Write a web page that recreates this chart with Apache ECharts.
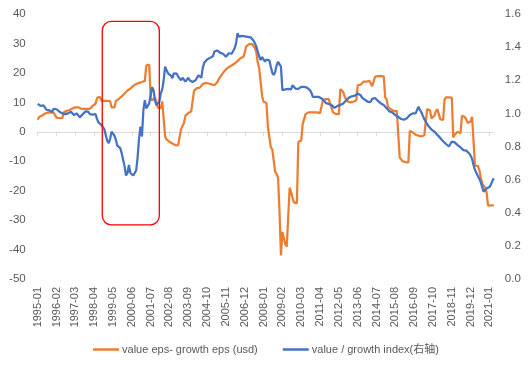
<!DOCTYPE html>
<html><head><meta charset="utf-8">
<script src="https://cdn.jsdelivr.net/npm/echarts@6/dist/echarts.min.js"></script>
<style>html,body{margin:0;padding:0;background:#fff}#c{width:532px;height:366px}</style>
</head><body><div id="c"></div>
<script>
// monthly categories 1995-01 .. 2021-04
const firstYear = 1995;
const monthCount = 316;
const categories = [];
for (let i = 0; i < monthCount; i++) {
  const y = firstYear + Math.floor(i / 12), m = i % 12 + 1;
  categories.push(y + '-' + (m < 10 ? '0' : '') + m);
}

// value eps - growth eps (usd), left axis
const epsSpread = [
  4.1, 5.0, 5.4, 5.5, 5.6, 6.2, 6.3, 6.5, 6.6, 6.6, 6.5, 6.5,
  6.0, 4.8, 4.6, 4.6, 4.6, 4.7, 6.6, 6.8, 7.1, 7.2, 7.4, 7.6,
  7.9, 8.1, 8.3, 8.4, 8.3, 7.9, 7.8, 7.8, 7.8, 7.8, 7.8, 7.7,
  7.8, 8.0, 8.8, 9.3, 9.6, 11.5, 12.1, 11.9, 10.6, 10.5, 10.5, 10.5,
  10.5, 10.5, 10.4, 8.3, 8.2, 8.3, 10.4, 10.8, 11.2, 11.6, 12.0, 12.4,
  13.0, 13.5, 14.0, 14.5, 14.7, 15.2, 15.6, 16.0, 16.2, 16.3, 16.6, 16.8,
  16.9, 17.0, 17.3, 22.5, 23.0, 22.8, 11.6, 10.6, 10.5, 11.6, 10.0, 8.2,
  7.9, 8.0, 10.3, 10.4, -1.5, -2.6, -3.0, -3.4, -3.8, -4.0, -4.3, -4.5,
  -4.6, -4.6, -4.7, 0.9, 1.2, 3.0, 5.4, 5.8, 6.4, 6.6, 6.9, 7.2,
  14.0, 14.5, 14.8, 15.0, 15.0, 15.4, 16.2, 16.5, 16.6, 16.6, 16.4, 16.2,
  16.1, 16.0, 15.8, 15.8, 16.8, 17.8, 18.6, 19.2, 20.0, 20.6, 21.2, 21.6,
  22.0, 22.3, 22.5, 22.9, 23.2, 23.6, 24.0, 24.5, 25.0, 25.2, 25.4, 27.0,
  29.0, 29.5, 29.8, 29.9, 29.8, 29.6, 28.5, 27.0, 23.5, 21.5, 21.0, 12.0,
  10.2, 10.0, 9.8, 1.5, 1.0, -5.3, -6.0, -6.5, -13.5, -14.4, -15.5, -27.0,
  -42.0, -34.0, -34.5, -38.2, -39.0, -39.3, -19.0, -20.5, -22.5, -24.0, -24.5, -24.3,
  -3.5, -3.3, -3.0, 2.6, 2.7, 6.0, 6.4, 6.6, 6.6, 6.6, 6.6, 6.6,
  6.6, 6.6, 6.5, 6.3, 6.2, 10.8, 11.0, 11.1, 11.1, 11.1, 11.0, 8.0,
  6.6, 6.2, 6.0, 6.0, 6.0, 14.5, 14.2, 13.5, 12.0, 11.0, 10.3, 10.0,
  10.0, 10.0, 10.2, 10.5, 10.6, 15.8, 16.2, 16.0, 16.6, 17.0, 17.3, 17.0,
  17.6, 17.3, 16.5, 15.5, 15.0, 18.7, 18.8, 18.9, 18.9, 18.9, 18.9, 18.8,
  11.7, 11.0, 8.3, 7.8, 7.7, 7.2, 7.0, 6.8, 7.1, 6.8, -8.7, -9.0,
  -10.0, -10.3, -10.3, -10.4, -10.4, 0.3, 0.2, -0.2, -0.7, -1.0, -1.0, -1.3,
  -1.6, -1.6, -1.2, -1.2, -1.3, 7.7, 7.7, 7.2, 4.5, 4.3, 5.5, 7.0,
  7.7, 6.0, 4.3, 3.7, 4.0, 11.0, 11.7, 11.7, 11.7, 11.7, 11.6, -1.9,
  -1.0, -1.0, 0.0, 0.2, -0.5, 5.4, 5.4, 5.0, 4.2, 3.0, 2.6, 3.5,
  5.1, 5.1, -11.5, -11.5, -11.6, -13.0, -15.5, -17.5, -18.0, -19.0, -20.5, -25.0,
  -25.0, -25.0, -25.0, -25.0
];

// value / growth index, right axis
const vgIndex = [
  1.057, 1.050, 1.045, 1.055, 1.048, 1.040, 1.022, 1.030, 1.018, 1.012, 1.010, 1.028,
  1.033, 1.025, 1.018, 1.010, 1.005, 1.000, 1.008, 0.995, 0.990, 1.000, 0.993, 1.010,
  1.002, 0.990, 0.984, 1.000, 0.993, 0.976, 0.985, 0.994, 1.000, 1.012, 1.020, 1.010,
  0.995, 0.984, 0.992, 0.988, 0.995, 0.965, 0.945, 0.935, 0.930, 0.918, 0.905, 0.870,
  0.835, 0.820, 0.845, 0.890, 0.900, 0.865, 0.840, 0.805, 0.800, 0.790, 0.760, 0.720,
  0.680, 0.625, 0.640, 0.688, 0.640, 0.650, 0.625, 0.618, 0.655, 0.735, 0.850, 0.920,
  0.860, 1.020, 1.080, 1.030, 1.040, 1.060, 1.071, 1.158, 1.140, 1.080, 1.050, 1.045,
  1.070, 1.121, 1.145, 1.200, 1.282, 1.260, 1.242, 1.235, 1.228, 1.212, 1.242, 1.245,
  1.240, 1.222, 1.210, 1.200, 1.215, 1.205, 1.192, 1.195, 1.215, 1.200, 1.190, 1.190,
  1.192, 1.200, 1.215, 1.230, 1.242, 1.215, 1.275, 1.305, 1.312, 1.325, 1.333, 1.335,
  1.342, 1.345, 1.373, 1.383, 1.380, 1.370, 1.365, 1.353, 1.360, 1.350, 1.342, 1.345,
  1.363, 1.355, 1.360, 1.365, 1.393, 1.423, 1.484, 1.463, 1.460, 1.468, 1.473, 1.465,
  1.473, 1.462, 1.465, 1.459, 1.447, 1.440, 1.423, 1.403, 1.373, 1.345, 1.322, 1.340,
  1.330, 1.312, 1.325, 1.330, 1.320, 1.282, 1.245, 1.232, 1.250, 1.290, 1.312, 1.310,
  1.282, 1.140, 1.135, 1.145, 1.140, 1.148, 1.155, 1.145, 1.170, 1.158, 1.150, 1.140,
  1.148, 1.155, 1.160, 1.162, 1.160, 1.150, 1.155, 1.150, 1.140, 1.125, 1.100, 1.092,
  1.100, 1.095, 1.100, 1.098, 1.090, 1.080, 1.075, 1.062, 1.065, 1.057, 1.060, 1.050,
  1.040, 1.033, 1.035, 1.045, 1.051, 1.050, 1.047, 1.060, 1.068, 1.078, 1.085, 1.095,
  1.101, 1.103, 1.101, 1.107, 1.115, 1.120, 1.130, 1.110, 1.095, 1.087, 1.082, 1.075,
  1.070, 1.065, 1.070, 1.088, 1.097, 1.093, 1.082, 1.075, 1.068, 1.060, 1.051, 1.050,
  1.040, 1.031, 1.025, 1.012, 1.015, 1.005, 0.998, 0.990, 0.980, 0.978, 0.970, 0.966,
  0.962, 0.962, 0.966, 0.970, 0.980, 0.990, 0.997, 1.000, 0.995, 1.000, 1.003, 1.040,
  1.022, 1.005, 0.985, 0.965, 0.950, 0.935, 0.922, 0.910, 0.902, 0.896, 0.890, 0.882,
  0.870, 0.858, 0.852, 0.840, 0.832, 0.822, 0.815, 0.805, 0.800, 0.815, 0.829, 0.839,
  0.825, 0.818, 0.808, 0.800, 0.795, 0.789, 0.778, 0.769, 0.775, 0.765, 0.758, 0.745,
  0.725, 0.688, 0.658, 0.640, 0.622, 0.605, 0.585, 0.555, 0.527, 0.537, 0.547, 0.550,
  0.555, 0.570, 0.592, 0.608
];

const seriesNames = ['value eps- growth eps (usd)', 'value / growth index(右轴)'];
const leftAxisTicks = { min: -50, max: 40, interval: 10 };
const rightAxisTicks = { min: 0, max: 1.6, interval: 0.2 };
// highlight box annotation: [category index from, to, left-axis value top, bottom]
const highlightBox = [44.6, 84.0, 37.5, -31.6];

const FONT = "'Liberation Sans','Noto Sans CJK SC',sans-serif";
const chart = echarts.init(document.getElementById('c'), null, { renderer: 'canvas' });

const option = {
  animation: false,
  backgroundColor: '#ffffff',
  textStyle: { fontFamily: FONT },
  grid: { left: 37.7, right: 38.2, top: 14, bottom: 87, containLabel: false },
  legend: {
    data: seriesNames,
    left: 'center', top: 339,
    icon: 'rect', itemWidth: 26, itemHeight: 2.5, itemGap: 25,
    textStyle: { color: '#595959', fontSize: 11, fontFamily: FONT, padding: [0, 0, 0, -2] }
  },
  xAxis: [
    {
      type: 'category', data: categories, boundaryGap: false,
      axisLine: { show: true, onZero: true, onZeroAxisIndex: 0, lineStyle: { color: '#d9d9d9', width: 1 } },
      axisTick: { show: true, interval: 12, length: 4, lineStyle: { color: '#d9d9d9' } },
      axisLabel: { show: false }, splitLine: { show: false }
    },
    {
      type: 'category', data: categories, boundaryGap: false, position: 'bottom',
      axisLine: { show: false, onZero: false }, axisTick: { show: false }, splitLine: { show: false },
      axisLabel: { interval: 12, rotate: 90, margin: 8, color: '#595959', fontSize: 11, fontFamily: FONT }
    }
  ],
  yAxis: [
    {
      type: 'value', min: leftAxisTicks.min, max: leftAxisTicks.max, interval: leftAxisTicks.interval,
      axisLine: { show: false }, axisTick: { show: false }, splitLine: { show: false },
      axisLabel: { color: '#595959', fontSize: 11.5, margin: 12, fontFamily: FONT }
    },
    {
      type: 'value', position: 'right', min: rightAxisTicks.min, max: rightAxisTicks.max, interval: rightAxisTicks.interval,
      axisLine: { show: false }, axisTick: { show: false }, splitLine: { show: false },
      axisLabel: { color: '#595959', fontSize: 11.5, margin: 11, fontFamily: FONT, formatter: v => v.toFixed(1) }
    }
  ],
  series: [
    {
      name: seriesNames[0], type: 'line', xAxisIndex: 0, yAxisIndex: 0, data: epsSpread,
      showSymbol: false, symbol: 'none', smooth: false,
      itemStyle: { color: '#ED7D31' }, lineStyle: { color: '#ED7D31', width: 2.25 }
    },
    {
      name: seriesNames[1], type: 'line', xAxisIndex: 0, yAxisIndex: 1, data: vgIndex,
      showSymbol: false, symbol: 'none', smooth: false,
      itemStyle: { color: '#4472C4' }, lineStyle: { color: '#4472C4', width: 2.25 }
    }
  ]
};
chart.setOption(option);

function catPx(idx) {
  const i0 = Math.floor(idx), f = idx - i0;
  const p0 = chart.convertToPixel({ xAxisIndex: 0 }, i0);
  const p1 = chart.convertToPixel({ xAxisIndex: 0 }, i0 + 1);
  return p0 + f * (p1 - p0);
}
const bx1 = catPx(highlightBox[0]), bx2 = catPx(highlightBox[1]);
const by1 = chart.convertToPixel({ yAxisIndex: 0 }, highlightBox[2]);
const by2 = chart.convertToPixel({ yAxisIndex: 0 }, highlightBox[3]);
chart.setOption({
  graphic: [{
    type: 'rect', z: 100,
    shape: { x: bx1, y: by1, width: bx2 - bx1, height: by2 - by1, r: 9 },
    style: { fill: 'none', stroke: '#FF0000', lineWidth: 1.3 }
  }]
});
</script></body></html>
